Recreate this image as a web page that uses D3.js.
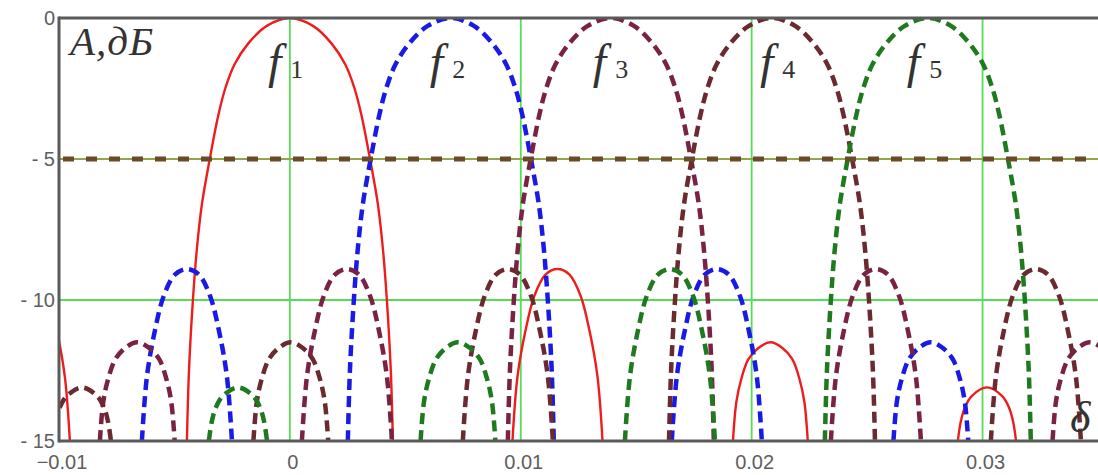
<!DOCTYPE html>
<html><head><meta charset="utf-8">
<script src="https://cdn.jsdelivr.net/npm/d3@7"></script>
<style>
html,body{margin:0;padding:0;background:#fff;}
svg{display:block;}
</style></head><body>
<svg id="chart" width="1098" height="475"></svg>
<script>
// ---------- data ----------
const xTicks = [-0.01, 0, 0.01, 0.02, 0.03];
const xTickLabels = ["\u22120.01", "0", "0.01", "0.02", "0.03"];
const yTicks = [0, -5, -10, -15];
const yTickLabels = ["0", "- 5", "- 10", "- 15"];
const gridX = [0, 0.01, 0.02, 0.03];
const gridY = [-5, -10];
const levelLine = -5;
const seriesLabels = ["1", "2", "3", "4", "5"];
const labelX = [-0.00095, 0.00606, 0.01312, 0.02036, 0.02672];

// each series: list of lobes, each lobe a list of [delta, dB]
const f1 = [
 [[-13.43e-3,-15],[-13.21e-3,-12.7],[-12.87e-3,-11.1],[-12.48e-3,-9.85],[-12.00e-3,-9.1],[-11.48e-3,-8.9],[-10.96e-3,-9.1],[-10.48e-3,-9.85],[-10.09e-3,-11.1],[-9.75e-3,-12.7],[-9.53e-3,-15]],
 [[-4.46e-3,-15],[-4.37e-3,-12.5],[-4.20e-3,-10],[-4.03e-3,-8.2],[-3.81e-3,-6.6],[-3.47e-3,-5.0],[-3.10e-3,-3.45],[-2.80e-3,-2.5],[-2.40e-3,-1.65],[-1.80e-3,-0.9],[-1.00e-3,-0.28],[0,0],[1.00e-3,-0.28],[1.80e-3,-0.9],[2.40e-3,-1.65],[2.80e-3,-2.5],[3.10e-3,-3.45],[3.47e-3,-5.0],[3.81e-3,-6.6],[4.03e-3,-8.2],[4.20e-3,-10],[4.37e-3,-12.5],[4.46e-3,-15]],
 [[9.64e-3,-15],[9.86e-3,-12.7],[10.20e-3,-11.1],[10.59e-3,-9.85],[11.07e-3,-9.1],[11.59e-3,-8.9],[12.11e-3,-9.1],[12.59e-3,-9.85],[12.98e-3,-11.1],[13.32e-3,-12.7],[13.54e-3,-15]],
 [[19.19e-3,-15],[19.34e-3,-13.6],[19.55e-3,-12.8],[19.86e-3,-12.1],[20.29e-3,-11.7],[20.81e-3,-11.5],[21.33e-3,-11.7],[21.76e-3,-12.1],[22.07e-3,-12.8],[22.28e-3,-13.6],[22.43e-3,-15]],
 [[28.93e-3,-15],[29.06e-3,-14.3],[29.24e-3,-13.8],[29.54e-3,-13.4],[30.19e-3,-13.1],[30.84e-3,-13.4],[31.14e-3,-13.8],[31.32e-3,-14.3],[31.45e-3,-15]]
];
const f2 = [
 [[-6.41e-3,-15],[-6.19e-3,-12.7],[-5.85e-3,-11.1],[-5.46e-3,-9.85],[-4.98e-3,-9.1],[-4.46e-3,-8.9],[-3.94e-3,-9.1],[-3.46e-3,-9.85],[-3.07e-3,-11.1],[-2.73e-3,-12.7],[-2.51e-3,-15]],
 [[2.51e-3,-15],[2.60e-3,-12.5],[2.77e-3,-10],[2.94e-3,-8.2],[3.16e-3,-6.6],[3.50e-3,-5.0],[3.87e-3,-3.45],[4.17e-3,-2.5],[4.57e-3,-1.65],[5.17e-3,-0.9],[5.97e-3,-0.28],[6.97e-3,0],[7.97e-3,-0.28],[8.77e-3,-0.9],[9.37e-3,-1.65],[9.77e-3,-2.5],[10.07e-3,-3.45],[10.44e-3,-5.0],[10.78e-3,-6.6],[11.00e-3,-8.2],[11.17e-3,-10],[11.34e-3,-12.5],[11.43e-3,-15]],
 [[16.54e-3,-15],[16.76e-3,-12.7],[17.10e-3,-11.1],[17.49e-3,-9.85],[17.97e-3,-9.1],[18.49e-3,-8.9],[19.01e-3,-9.1],[19.49e-3,-9.85],[19.88e-3,-11.1],[20.22e-3,-12.7],[20.44e-3,-15]],
 [[26.14e-3,-15],[26.29e-3,-13.6],[26.50e-3,-12.8],[26.81e-3,-12.1],[27.24e-3,-11.7],[27.76e-3,-11.5],[28.28e-3,-11.7],[28.71e-3,-12.1],[29.02e-3,-12.8],[29.23e-3,-13.6],[29.38e-3,-15]]
];
const f3 = [
 [[-8.23e-3,-15],[-8.08e-3,-13.6],[-7.87e-3,-12.8],[-7.56e-3,-12.1],[-7.13e-3,-11.7],[-6.61e-3,-11.5],[-6.09e-3,-11.7],[-5.66e-3,-12.1],[-5.35e-3,-12.8],[-5.14e-3,-13.6],[-4.99e-3,-15]],
 [[0.52e-3,-15],[0.74e-3,-12.7],[1.08e-3,-11.1],[1.47e-3,-9.85],[1.95e-3,-9.1],[2.47e-3,-8.9],[2.99e-3,-9.1],[3.47e-3,-9.85],[3.86e-3,-11.1],[4.20e-3,-12.7],[4.42e-3,-15]],
 [[9.44e-3,-15],[9.53e-3,-12.5],[9.70e-3,-10],[9.87e-3,-8.2],[10.09e-3,-6.6],[10.43e-3,-5.0],[10.80e-3,-3.45],[11.10e-3,-2.5],[11.50e-3,-1.65],[12.10e-3,-0.9],[12.90e-3,-0.28],[13.90e-3,0],[14.90e-3,-0.28],[15.70e-3,-0.9],[16.30e-3,-1.65],[16.70e-3,-2.5],[17.00e-3,-3.45],[17.37e-3,-5.0],[17.71e-3,-6.6],[17.93e-3,-8.2],[18.10e-3,-10],[18.27e-3,-12.5],[18.36e-3,-15]],
 [[23.43e-3,-15],[23.65e-3,-12.7],[23.99e-3,-11.1],[24.38e-3,-9.85],[24.86e-3,-9.1],[25.38e-3,-8.9],[25.90e-3,-9.1],[26.38e-3,-9.85],[26.77e-3,-11.1],[27.11e-3,-12.7],[27.33e-3,-15]],
 [[33.03e-3,-15],[33.18e-3,-13.6],[33.39e-3,-12.8],[33.70e-3,-12.1],[34.13e-3,-11.7],[34.65e-3,-11.5],[35.17e-3,-11.7],[35.60e-3,-12.1],[35.91e-3,-12.8],[36.12e-3,-13.6],[36.27e-3,-15]]
];
const f4 = [
 [[-10.27e-3,-15],[-10.14e-3,-14.3],[-9.96e-3,-13.8],[-9.66e-3,-13.4],[-9.01e-3,-13.1],[-8.36e-3,-13.4],[-8.06e-3,-13.8],[-7.88e-3,-14.3],[-7.75e-3,-15]],
 [[-1.58e-3,-15],[-1.43e-3,-13.6],[-1.22e-3,-12.8],[-0.91e-3,-12.1],[-0.48e-3,-11.7],[0.04e-3,-11.5],[0.56e-3,-11.7],[0.99e-3,-12.1],[1.30e-3,-12.8],[1.51e-3,-13.6],[1.66e-3,-15]],
 [[7.49e-3,-15],[7.71e-3,-12.7],[8.05e-3,-11.1],[8.44e-3,-9.85],[8.92e-3,-9.1],[9.44e-3,-8.9],[9.96e-3,-9.1],[10.44e-3,-9.85],[10.83e-3,-11.1],[11.17e-3,-12.7],[11.39e-3,-15]],
 [[16.42e-3,-15],[16.51e-3,-12.5],[16.68e-3,-10],[16.85e-3,-8.2],[17.07e-3,-6.6],[17.41e-3,-5.0],[17.78e-3,-3.45],[18.08e-3,-2.5],[18.48e-3,-1.65],[19.08e-3,-0.9],[19.88e-3,-0.28],[20.88e-3,0],[21.88e-3,-0.28],[22.68e-3,-0.9],[23.28e-3,-1.65],[23.68e-3,-2.5],[23.98e-3,-3.45],[24.35e-3,-5.0],[24.69e-3,-6.6],[24.91e-3,-8.2],[25.08e-3,-10],[25.25e-3,-12.5],[25.34e-3,-15]],
 [[30.36e-3,-15],[30.58e-3,-12.7],[30.92e-3,-11.1],[31.31e-3,-9.85],[31.79e-3,-9.1],[32.31e-3,-8.9],[32.83e-3,-9.1],[33.31e-3,-9.85],[33.70e-3,-11.1],[34.04e-3,-12.7],[34.26e-3,-15]]
];
const f5 = [
 [[-3.51e-3,-15],[-3.38e-3,-14.3],[-3.20e-3,-13.8],[-2.90e-3,-13.4],[-2.25e-3,-13.1],[-1.60e-3,-13.4],[-1.30e-3,-13.8],[-1.12e-3,-14.3],[-0.99e-3,-15]],
 [[5.66e-3,-15],[5.81e-3,-13.6],[6.02e-3,-12.8],[6.33e-3,-12.1],[6.76e-3,-11.7],[7.28e-3,-11.5],[7.80e-3,-11.7],[8.23e-3,-12.1],[8.54e-3,-12.8],[8.75e-3,-13.6],[8.90e-3,-15]],
 [[14.51e-3,-15],[14.73e-3,-12.7],[15.07e-3,-11.1],[15.46e-3,-9.85],[15.94e-3,-9.1],[16.46e-3,-8.9],[16.98e-3,-9.1],[17.46e-3,-9.85],[17.85e-3,-11.1],[18.19e-3,-12.7],[18.41e-3,-15]],
 [[23.17e-3,-15],[23.26e-3,-12.5],[23.43e-3,-10],[23.60e-3,-8.2],[23.82e-3,-6.6],[24.16e-3,-5.0],[24.53e-3,-3.45],[24.83e-3,-2.5],[25.23e-3,-1.65],[25.83e-3,-0.9],[26.63e-3,-0.28],[27.63e-3,0],[28.63e-3,-0.28],[29.43e-3,-0.9],[30.03e-3,-1.65],[30.43e-3,-2.5],[30.73e-3,-3.45],[31.10e-3,-5.0],[31.44e-3,-6.6],[31.66e-3,-8.2],[31.83e-3,-10],[32.00e-3,-12.5],[32.09e-3,-15]]
];

// ---------- drawing ----------
const W = 1098, H = 475;
const m = {left: 59, top: 18, right: 0, bottom: 34};
const svg = d3.select("#chart");
const x = d3.scaleLinear().domain([-0.01, 0.035]).range([m.left, W - m.right]);
const y = d3.scaleLinear().domain([-15, 0]).range([H - m.bottom, m.top]);

svg.append("defs").append("clipPath").attr("id", "clip")
  .append("rect").attr("x", m.left).attr("y", m.top)
  .attr("width", W - m.left - m.right).attr("height", H - m.top - m.bottom);

// grid
const grid = svg.append("g");
grid.selectAll(".gx").data(gridX).join("line")
  .attr("x1", d => x(d)).attr("x2", d => x(d))
  .attr("y1", y(0)).attr("y2", y(-15))
  .attr("stroke", "#55dd55").attr("stroke-width", 1.8);
grid.selectAll(".gy").data(gridY).join("line")
  .attr("x1", m.left).attr("x2", W)
  .attr("y1", d => y(d)).attr("y2", d => y(d))
  .attr("stroke", "#55dd55").attr("stroke-width", 1.8);

const series = [
  {data: f1, color: "#ee1c1c", width: 2.4, dash: null},
  {data: f2, color: "#1a1ae6", width: 4.5, dash: "11 6"},
  {data: f3, color: "#7a2244", width: 4.5, dash: "11 6"},
  {data: f4, color: "#6a2a30", width: 4.5, dash: "11 6"},
  {data: f5, color: "#1f7a1f", width: 4.5, dash: "11 6"}
];
const line = d3.line().x(d => x(d[0])).y(d => y(d[1])).curve(d3.curveCatmullRom.alpha(0.5));
const plot = svg.append("g").attr("clip-path", "url(#clip)");
series.forEach(s => {
  plot.append("g").selectAll("path").data(s.data).join("path")
    .attr("d", line)
    .attr("fill", "none")
    .attr("stroke", s.color)
    .attr("stroke-width", s.width)
    .attr("stroke-dasharray", s.dash);
});

// -5 dB level line
plot.append("line")
  .attr("x1", m.left).attr("x2", W).attr("y1", y(levelLine)).attr("y2", y(levelLine))
  .attr("stroke", "#a89048").attr("stroke-width", 1.6);
plot.append("line")
  .attr("x1", m.left + 4).attr("x2", W).attr("y1", y(levelLine)).attr("y2", y(levelLine))
  .attr("stroke", "#6b4a2c").attr("stroke-width", 5).attr("stroke-dasharray", "11 12");

// frame
const axisColor = "#5a5a5a";
svg.append("line").attr("x1", m.left).attr("x2", m.left).attr("y1", y(0) - 1.5).attr("y2", y(-15) + 1.5)
  .attr("stroke", axisColor).attr("stroke-width", 3);
svg.append("line").attr("x1", m.left).attr("x2", W).attr("y1", y(0)).attr("y2", y(0))
  .attr("stroke", axisColor).attr("stroke-width", 3);
svg.append("line").attr("x1", m.left).attr("x2", W).attr("y1", y(-15)).attr("y2", y(-15))
  .attr("stroke", axisColor).attr("stroke-width", 3);

// tick labels
const tickFont = "'Liberation Sans', Arial, sans-serif";
svg.append("g").selectAll("text").data(xTicks).join("text")
  .attr("x", d => x(d) + 3).attr("y", H - m.bottom + 28)
  .attr("text-anchor", "middle")
  .attr("font-family", tickFont).attr("font-size", 20).attr("fill", "#5e5e5e")
  .text((d, i) => xTickLabels[i]);
svg.append("g").selectAll("text").data(yTicks).join("text")
  .attr("x", m.left - 4).attr("y", d => y(d) + 7)
  .attr("text-anchor", "end")
  .attr("font-family", tickFont).attr("font-size", 20).attr("fill", "#5e5e5e")
  .text((d, i) => yTickLabels[i]);

// axis titles
const serif = "'Liberation Serif', 'Times New Roman', serif";
svg.append("text").attr("x", m.left + 11).attr("y", 55)
  .attr("font-family", serif).attr("font-style", "italic").attr("font-size", 41).attr("fill", "#333")
  .attr("letter-spacing", 1)
  .text("A,дБ");
svg.append("text").attr("x", W - 28).attr("y", 432)
  .attr("font-family", serif).attr("font-style", "italic").attr("font-size", 44).attr("fill", "#333")
  .text("δ");

// series labels
const lab = svg.append("g").selectAll("text").data(seriesLabels).join("text")
  .attr("x", (d, i) => x(labelX[i])).attr("y", 78)
  .attr("font-family", serif).attr("fill", "#333");
lab.append("tspan").attr("font-style", "italic").attr("font-size", 48).text("f");
lab.append("tspan").attr("font-size", 26).attr("dx", 9).text(d => d);
</script>
</body></html>
